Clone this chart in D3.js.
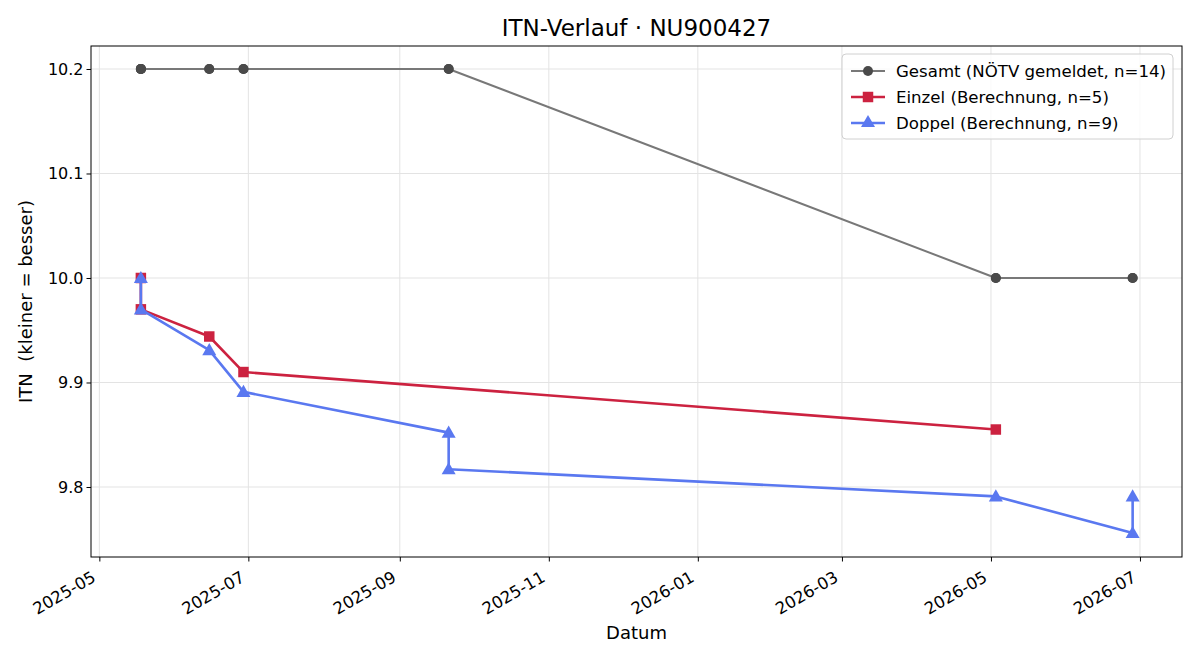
<!DOCTYPE html>
<html>
<head>
<meta charset="utf-8">
<script src="https://cdn.jsdelivr.net/npm/d3@7"></script>
<style>
  body { margin: 0; background: #fff; }
  svg { font-family: "DejaVu Sans", sans-serif; }
</style>
</head>
<body>
<div id="chart"></div>
<script>
// Data
const gesamtDates = ["2025-05-18","2025-05-18","2025-05-18","2025-05-18","2025-06-15","2025-06-15","2025-06-29","2025-06-29","2025-09-21","2025-09-21","2026-05-03","2026-05-03","2026-06-28","2026-06-28"];
const gesamtValues = [10.2,10.2,10.2,10.2,10.2,10.2,10.2,10.2,10.2,10.2,10.0,10.0,10.0,10.0];

const einzelDates = ["2025-05-18","2025-05-18","2025-06-15","2025-06-29","2026-05-03"];
const einzelValues = [10.0, 9.970, 9.944, 9.910, 9.855];

const doppelDates = ["2025-05-18","2025-05-18","2025-06-15","2025-06-29","2025-09-21","2025-09-21","2026-05-03","2026-06-28","2026-06-28"];
const doppelValues = [10.0, 9.970, 9.931, 9.891, 9.852, 9.817, 9.791, 9.756, 9.791];

const yTicks = [9.8, 9.9, 10.0, 10.1, 10.2];
const xTicks = ["2025-05-01","2025-07-01","2025-09-01","2025-11-01","2026-01-01","2026-03-01","2026-05-01","2026-07-01"];

const parse = d3.timeParse("%Y-%m-%d");
const zip = (ds, vs) => ds.map((d, i) => ({ date: parse(d), value: vs[i] }));

const series = [
  { name: "Gesamt (NÖTV gemeldet, n=14)", data: zip(gesamtDates, gesamtValues), line: "#787878", marker: "#4a4a4a", width: 2, shape: "circle" },
  { name: "Einzel (Berechnung, n=5)", data: zip(einzelDates, einzelValues), line: "#cc2240", marker: "#cc2240", width: 2.6, shape: "square" },
  { name: "Doppel (Berechnung, n=9)", data: zip(doppelDates, doppelValues), line: "#5a78f0", marker: "#5a78f0", width: 2.6, shape: "triangle" }
];

const symbolOf = s => s.shape === "circle" ? d3.symbolCircle : s.shape === "square" ? d3.symbolSquare : d3.symbolTriangle;
const sizeOf = s => s.shape === "circle" ? 78 : s.shape === "square" ? 110 : 85;

const width = 1200, height = 660;
const margin = { top: 46, right: 18, bottom: 103, left: 91 };

const svg = d3.select("#chart").append("svg")
  .attr("width", width)
  .attr("height", height);

const x = d3.scaleTime()
  .domain([new Date(2025, 3, 27, 14), new Date(2026, 6, 18, 5)])
  .range([margin.left, width - margin.right]);

const y = d3.scaleLinear()
  .domain([9.733, 10.222])
  .range([height - margin.bottom, margin.top]);

// Grid
svg.append("g")
  .selectAll("line")
  .data(xTicks.map(parse))
  .join("line")
  .attr("x1", d => x(d)).attr("x2", d => x(d))
  .attr("y1", margin.top).attr("y2", height - margin.bottom)
  .attr("stroke", "#e3e3e3").attr("stroke-width", 1);

svg.append("g")
  .selectAll("line")
  .data(yTicks)
  .join("line")
  .attr("x1", margin.left).attr("x2", width - margin.right)
  .attr("y1", d => y(d)).attr("y2", d => y(d))
  .attr("stroke", "#e3e3e3").attr("stroke-width", 1);

// Lines and markers
const line = d3.line().x(d => x(d.date)).y(d => y(d.value));

series.forEach(s => {
  svg.append("path")
    .datum(s.data)
    .attr("fill", "none")
    .attr("stroke", s.line)
    .attr("stroke-width", s.width)
    .attr("stroke-linejoin", "round")
    .attr("d", line);

  svg.append("g")
    .selectAll("path")
    .data(s.data)
    .join("path")
    .attr("transform", d => `translate(${x(d.date)},${y(d.value) + (s.shape === "triangle" ? 1 : 0)})`)
    .attr("d", d3.symbol(symbolOf(s), sizeOf(s)))
    .attr("fill", s.marker);
});

// Frame
svg.append("rect")
  .attr("x", margin.left).attr("y", margin.top)
  .attr("width", width - margin.left - margin.right)
  .attr("height", height - margin.top - margin.bottom)
  .attr("fill", "none").attr("stroke", "#000").attr("stroke-width", 1);

// Axes
const xAxis = svg.append("g")
  .attr("transform", `translate(0,${height - margin.bottom})`)
  .call(d3.axisBottom(x).tickValues(xTicks.map(parse)).tickSize(4.5).tickFormat(d3.timeFormat("%Y-%m")));
xAxis.select(".domain").remove();
xAxis.selectAll("text")
  .attr("font-size", 16.5)
  .attr("font-family", "DejaVu Sans")
  .attr("fill", "#000")
  .attr("text-anchor", "end")
  .attr("dy", null)
  .attr("y", 0)
  .attr("transform", "translate(-3,23.5) rotate(-30)");

const yAxis = svg.append("g")
  .attr("transform", `translate(${margin.left},0)`)
  .call(d3.axisLeft(y).tickValues(yTicks).tickSize(4.5).tickFormat(d3.format(".1f")));
yAxis.select(".domain").remove();
yAxis.selectAll("text")
  .attr("font-size", 16)
  .attr("font-family", "DejaVu Sans")
  .attr("fill", "#000");

// Title and labels
svg.append("text")
  .attr("x", (margin.left + width - margin.right) / 2)
  .attr("y", 36)
  .attr("text-anchor", "middle")
  .attr("font-size", 23)
  .text("ITN-Verlauf · NU900427");

svg.append("text")
  .attr("x", (margin.left + width - margin.right) / 2)
  .attr("y", 639)
  .attr("text-anchor", "middle")
  .attr("font-size", 18)
  .text("Datum");

svg.append("text")
  .attr("transform", `translate(32,${(margin.top + height - margin.bottom) / 2}) rotate(-90)`)
  .attr("text-anchor", "middle")
  .attr("font-size", 18)
  .style("white-space", "pre")
  .text("ITN  (kleiner = besser)");

// Legend
const lg = svg.append("g").attr("transform", "translate(842,54)");
lg.append("rect")
  .attr("width", 331).attr("height", 85).attr("rx", 4)
  .attr("fill", "#fff").attr("fill-opacity", 0.8)
  .attr("stroke", "#d0d0d0");

series.forEach((s, i) => {
  const g = lg.append("g").attr("transform", `translate(0,${17 + i * 26})`);
  g.append("line")
    .attr("x1", 9).attr("x2", 43)
    .attr("stroke", s.line).attr("stroke-width", s.width);
  g.append("path")
    .attr("transform", "translate(26,0)")
    .attr("d", d3.symbol(symbolOf(s), sizeOf(s)))
    .attr("fill", s.marker);
  g.append("text")
    .attr("x", 54).attr("y", 6)
    .attr("font-size", 16.6)
    .text(s.name);
});
</script>
</body>
</html>
